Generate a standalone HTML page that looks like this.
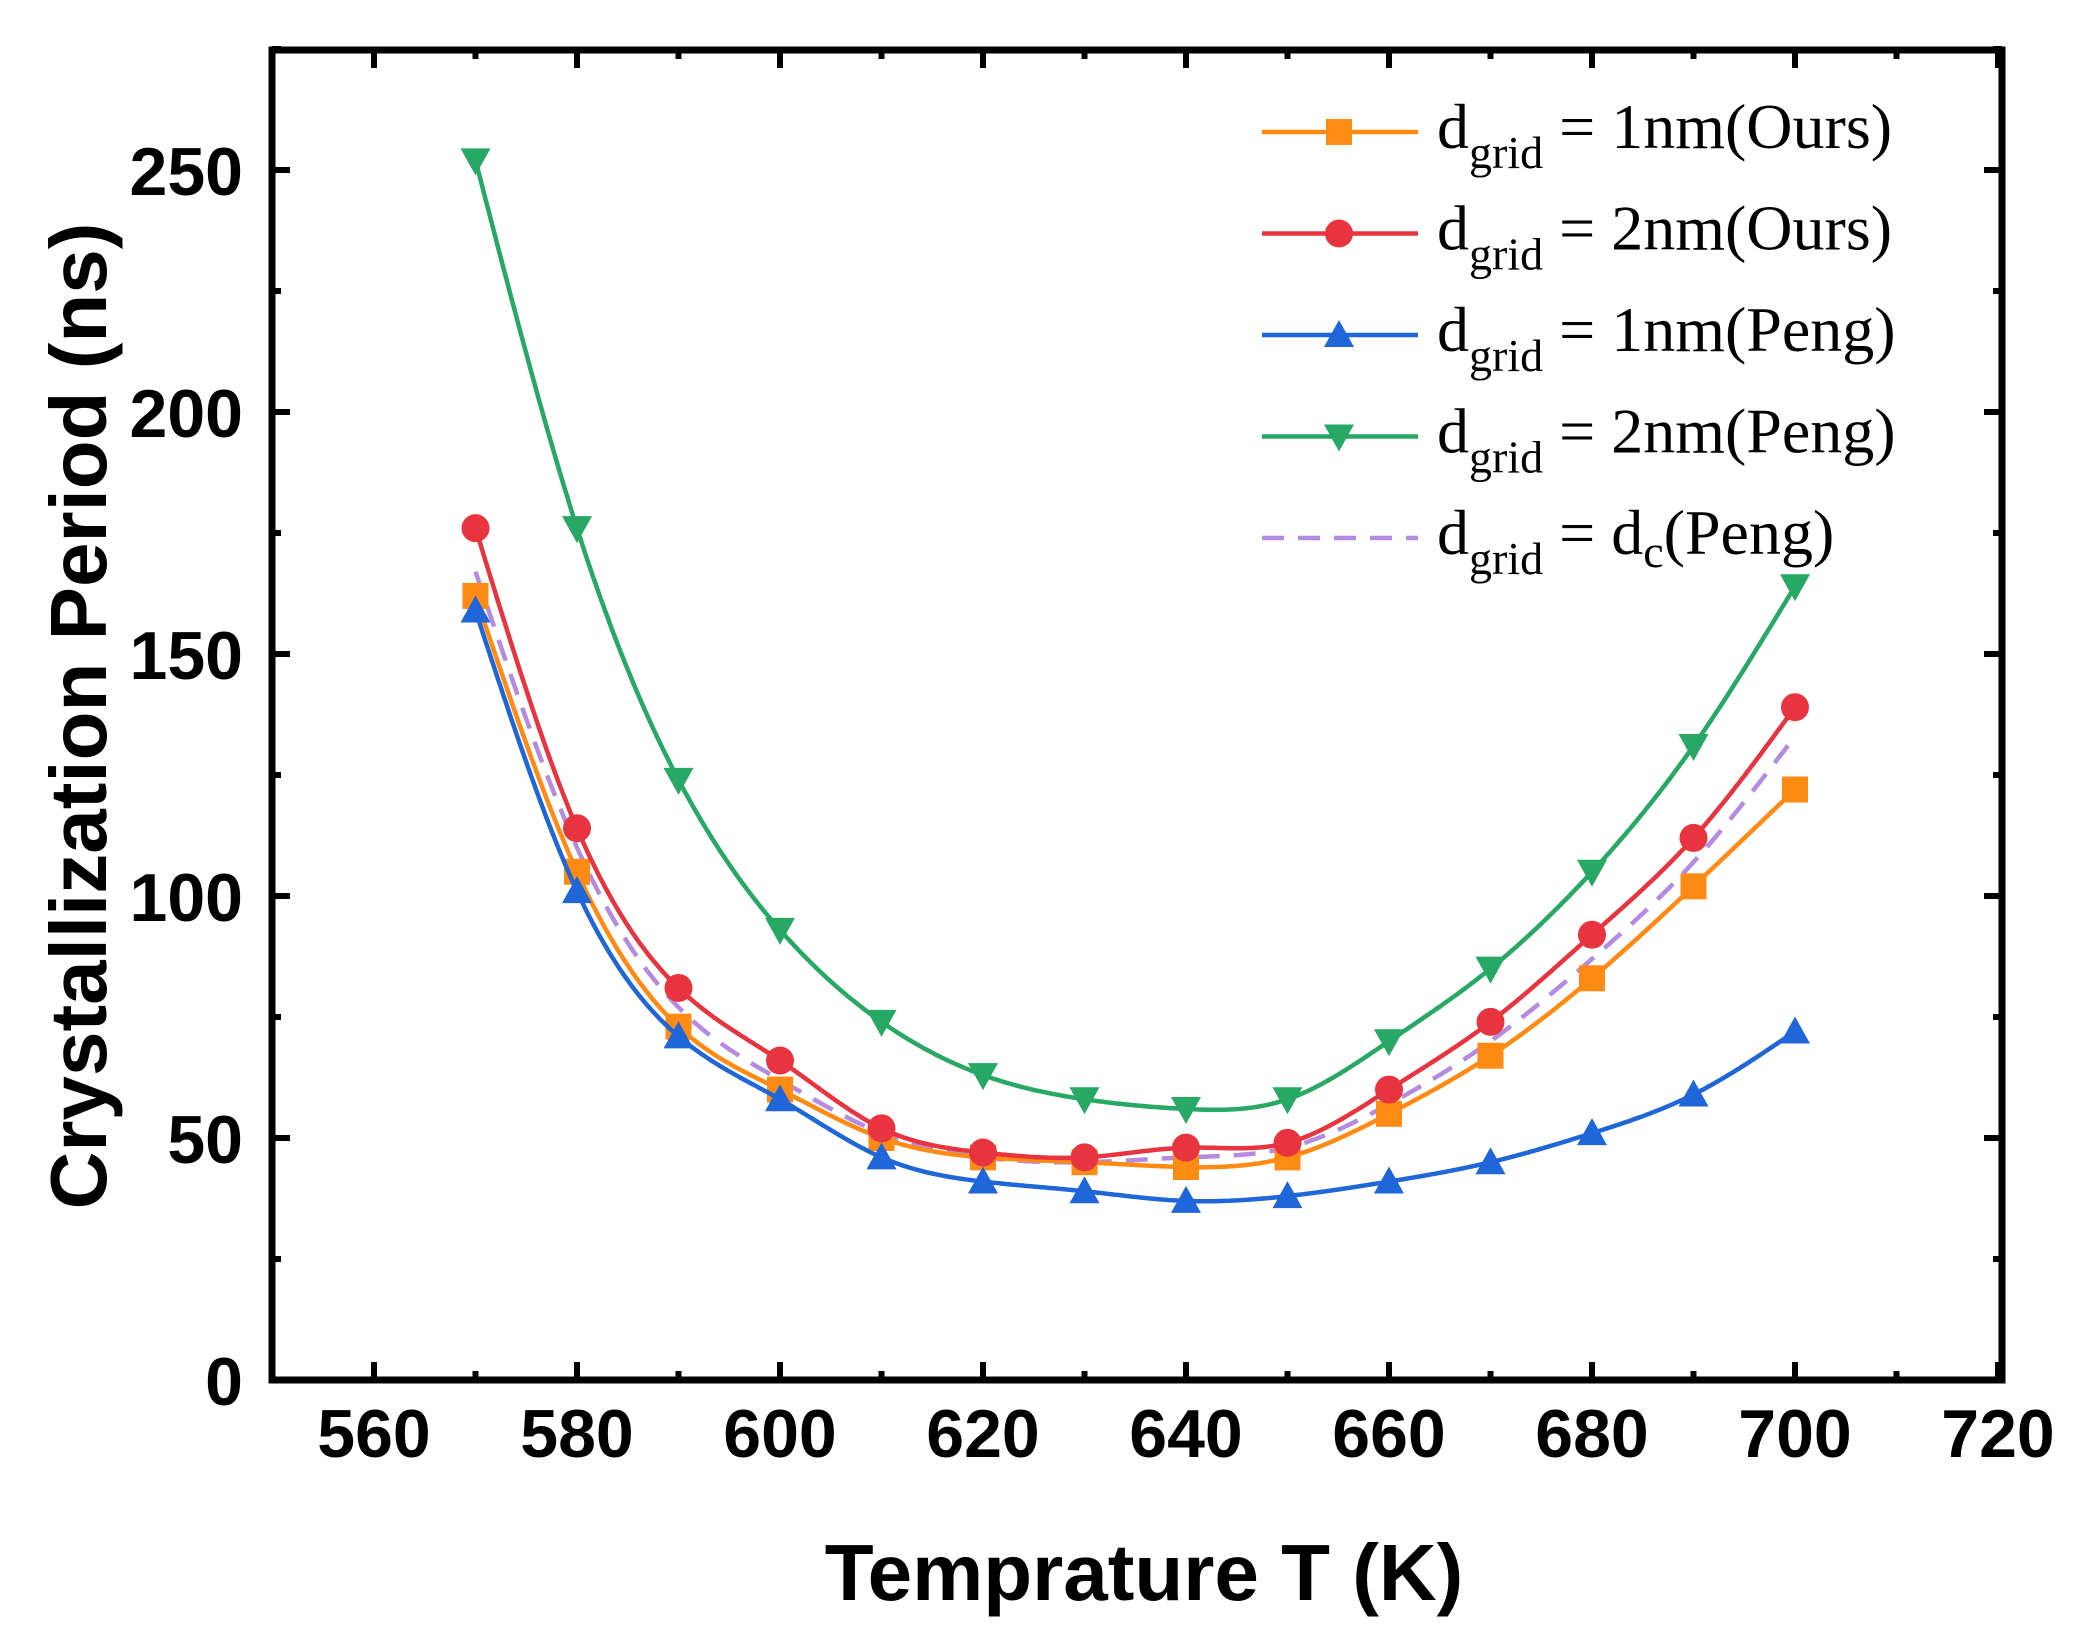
<!DOCTYPE html>
<html><head><meta charset="utf-8"><style>
html,body{margin:0;padding:0;background:#fff;}
svg{display:block;}
.t{font-family:"Liberation Sans",Arial,sans-serif;font-weight:bold;fill:#000;}
.l{font-family:"Liberation Serif","Times New Roman",serif;fill:#000;}
</style></head><body>
<svg id="s" width="2088" height="1632" viewBox="0 0 2088 1632" xmlns="http://www.w3.org/2000/svg">
<g id="plot"></g>
<rect x="272" y="50" width="1730" height="1330" fill="none" stroke="#000" stroke-width="7"/>
<g id="ticks" stroke="#000" stroke-width="6"></g>
<g class="t" font-size="68" text-anchor="middle" id="xl"></g>
<g class="t" font-size="68" text-anchor="end" id="yl"></g>
<text class="t" x="1144" y="1600" font-size="80" text-anchor="middle">Temprature T (K)</text>
<text class="t" font-size="80" text-anchor="middle" transform="translate(106,716) rotate(-90)">Crystallization Period (ns)</text>
<g id="leg"></g>
</svg>
<script>
var X=function(t){return 374+(t-560)*10.15;};
var Y=function(v){return 1380-v*4.84;};
var ns="http://www.w3.org/2000/svg";
function el(p,n,a,txt){var e=document.createElementNS(ns,n);for(var k in a)e.setAttribute(k,a[k]);if(txt!=null)e.textContent=txt;document.getElementById(p).appendChild(e);return e;}
for(var t=550;t<=720;t+=10){var x=X(t);var maj=(t%20==0);var L=maj?18:9;
 el("ticks","line",{x1:x,y1:1380,x2:x,y2:1380-L});el("ticks","line",{x1:x,y1:50,x2:x,y2:50+L});
 if(maj&&t>=560) el("xl","text",{x:x,y:1457},t);}
for(var v=0;v<=275;v+=25){var y=Y(v);var maj=(v%50==0);var L=maj?18:9;
 el("ticks","line",{x1:272,y1:y,x2:272+L,y2:y});el("ticks","line",{x1:2002,y1:y,x2:2002-L,y2:y});
 if(maj) el("yl","text",{x:243,y:y+25},v);}
var T=[570,580,590,600,610,620,630,640,650,660,670,680,690,700];
var S=[
 {c:"#B48BE0",d:[167,110,77,62,51,46,45,46,48,57,70,87,107,133],m:null,dash:"22,14"},
 {c:"#FF8A14",d:[162,105,73,60,50,46,45,44,46,55,67,83,102,122],m:"sq"},
 {c:"#1F66D8",d:[159,101,71,58,46,41,39,37,38,41,45,51,59,72],m:"up"},
 {c:"#E8343F",d:[176,114,81,66,52,47,46,48,49,60,74,92,112,139],m:"ci"},
 {c:"#27A865",d:[252,176,124,93,74,63,58,56,58,70,85,105,131,164],m:"dn"}
];
function spline(ys){var n=ys.length,M=new Array(n).fill(0);
 // natural cubic spline, unit spacing
 var a=[],b=[],c=[],r=[];for(var i=1;i<n-1;i++){a.push(1);b.push(4);c.push(1);r.push(6*(ys[i+1]-2*ys[i]+ys[i-1]));}
 var m=r.length;for(var i=1;i<m;i++){var w=a[i]/b[i-1];b[i]-=w*c[i-1];r[i]-=w*r[i-1];}
 var sol=new Array(m);sol[m-1]=r[m-1]/b[m-1];for(var i=m-2;i>=0;i--)sol[i]=(r[i]-c[i]*sol[i+1])/b[i];
 for(var i=0;i<m;i++)M[i+1]=sol[i];
 return function(x){var i=Math.min(n-2,Math.floor(x)),t=x-i;
  return (1-t)*ys[i]+t*ys[i+1]+((Math.pow(1-t,3)-(1-t))*M[i]+(Math.pow(t,3)-t)*M[i+1])/6;};}
function marker(g,m,x,y,c){
 if(m=="sq")el(g,"rect",{x:x-13,y:y-13,width:26,height:26,fill:c});
 else if(m=="ci")el(g,"circle",{cx:x,cy:y,r:14,fill:c});
 else if(m=="up")el(g,"polygon",{points:(x-15)+","+(y+12)+" "+(x+15)+","+(y+12)+" "+x+","+(y-15),fill:c});
 else if(m=="dn")el(g,"polygon",{points:(x-15)+","+(y-12)+" "+(x+15)+","+(y-12)+" "+x+","+(y+15),fill:c});}
S.forEach(function(s){var f=spline(s.d);var d="";
 for(var k=0;k<=130*4;k++){var u=k/40;var px=X(570+u*10),py=Y(f(u));d+=(k?"L":"M")+px.toFixed(1)+","+py.toFixed(1);}
 var a={d:d,fill:"none",stroke:s.c,"stroke-width":4.5};if(s.dash)a["stroke-dasharray"]=s.dash;
 el("plot","path",a);
 if(s.m)T.forEach(function(t,i){marker("plot",s.m,X(t),Y(s.d[i]),s.c);});});
var LG=[{c:"#FF8A14",m:"sq",n:"1nm(Ours)"},{c:"#E8343F",m:"ci",n:"2nm(Ours)"},{c:"#1F66D8",m:"up",n:"1nm(Peng)"},{c:"#27A865",m:"dn",n:"2nm(Peng)"},{c:"#B48BE0",m:null,n:"dc"}];
LG.forEach(function(o,i){var y=132+i*101.5;
 var a={x1:1262,y1:y,x2:1418,y2:y,stroke:o.c,"stroke-width":4.5};if(!o.m)a["stroke-dasharray"]="22,14";
 el("leg","line",a);if(o.m)marker("leg",o.m,1339,y,o.c);
 var tx=el("leg","text",{x:1437,y:y+16,"class":"l","font-size":64});
 var s1=document.createElementNS(ns,"tspan");s1.textContent="d";tx.appendChild(s1);
 var s2=document.createElementNS(ns,"tspan");s2.setAttribute("dy","20");s2.setAttribute("font-size","46");s2.textContent="grid";tx.appendChild(s2);
 var s3=document.createElementNS(ns,"tspan");s3.setAttribute("dy","-20");
 if(o.m){s3.textContent=" = "+o.n;tx.appendChild(s3);}
 else{s3.textContent=" = d";tx.appendChild(s3);
  var s4=document.createElementNS(ns,"tspan");s4.setAttribute("dy","13");s4.setAttribute("font-size","46");s4.textContent="c";tx.appendChild(s4);
  var s5=document.createElementNS(ns,"tspan");s5.setAttribute("dy","-13");s5.textContent="(Peng)";tx.appendChild(s5);}
});
</script>
</body></html>
